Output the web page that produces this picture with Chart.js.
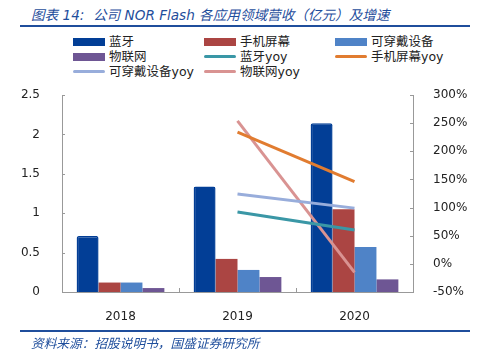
<!DOCTYPE html>
<html>
<head>
<meta charset="utf-8">
<script src="https://cdn.jsdelivr.net/npm/chart.js@4"></script>
<style>
  body { margin: 0; background: #fff; }
  #wrap { position: relative; width: 481px; height: 358px; overflow: hidden; }
  #chart { position: absolute; left: 0; top: 0; }
  .title { position: absolute; left: 31px; top: 4px; font: italic 13.6px "DejaVu Sans", "Noto Sans CJK SC", sans-serif; color: #1f4e9c; white-space: nowrap; }
  .rule { position: absolute; left: 20px; width: 450px; height: 2px; background: #1f4e9c; }
  .source { position: absolute; left: 31px; top: 333px; font: italic 12.7px "Noto Sans CJK SC", sans-serif; color: #1f4e9c; white-space: nowrap; }
  .leg { position: absolute; font: 12.5px "DejaVu Sans", "Noto Sans CJK SC", sans-serif; color: #222; white-space: nowrap; line-height: 15px; }
  .leg i { position: absolute; display: block; }
</style>
</head>
<body>
<div id="wrap">
  <div class="title">图表 14:&nbsp; 公司 NOR Flash 各应用领域营收（亿元）及增速</div>
  <div class="rule" style="top:25px"></div>
  <div id="legend"></div>
  <canvas id="chart" width="481" height="358"></canvas>
  <div class="rule" style="top:330px"></div>
  <div class="source">资料来源：招股说明书，国盛证券研究所</div>
</div>
<script>
const years = ["2018", "2019", "2020"];

const bluetooth = [0.71, 1.34, 2.14];
const screen = [0.12, 0.42, 1.05];
const wearable = [0.12, 0.28, 0.57];
const iot = [0.05, 0.19, 0.16];

const bluetoothYoy = [null, 92, 60];
const screenYoy = [null, 234, 146];
const wearableYoy = [null, 124, 99];
const iotYoy = [null, 254, -15];

const leftTicks = [0, 0.5, 1, 1.5, 2, 2.5];
const rightTicks = [-50, 0, 50, 100, 150, 200, 250, 300];

const colors = {
  bluetooth: "#023e96",
  screen: "#ab4543",
  wearable: "#4f83c7",
  iot: "#6e5694",
  bluetoothYoy: "#3a97a6",
  screenYoy: "#e17c30",
  wearableYoy: "#98addb",
  iotYoy: "#d99392",
};

// legend, 3 columns like the original
const legendItems = [
  ["蓝牙", colors.bluetooth, "bar"],
  ["手机屏幕", colors.screen, "bar"],
  ["可穿戴设备", colors.wearable, "bar"],
  ["物联网", colors.iot, "bar"],
  ["蓝牙yoy", colors.bluetoothYoy, "line"],
  ["手机屏幕yoy", colors.screenYoy, "line"],
  ["可穿戴设备yoy", colors.wearableYoy, "line"],
  ["物联网yoy", colors.iotYoy, "line"],
];
const colX = [73, 204, 335];
const rowY = [34, 49, 64];
const legend = document.getElementById("legend");
legendItems.forEach((item, i) => {
  const el = document.createElement("div");
  el.className = "leg";
  el.style.left = colX[i % 3] + "px";
  el.style.top = rowY[Math.floor(i / 3)] + "px";
  el.style.paddingLeft = "36px";
  const sw = document.createElement("i");
  sw.style.background = item[1];
  sw.style.left = "0px";
  sw.style.width = "32px";
  if (item[2] === "bar") {
    sw.style.top = "4px";
    sw.style.height = "8px";
  } else {
    sw.style.top = "6px";
    sw.style.height = "3px";
    sw.style.borderRadius = "2px";
  }
  el.appendChild(sw);
  el.appendChild(document.createTextNode(item[0]));
  legend.appendChild(el);
});

// small inward tick marks on the axes
const innerTicks = {
  id: "innerTicks",
  afterDraw(chart) {
    const c = chart.ctx;
    const a = chart.chartArea;
    c.save();
    c.strokeStyle = "#999";
    c.lineWidth = 1;
    c.beginPath();
    chart.scales.y.ticks.forEach((t) => {
      const y = Math.round(chart.scales.y.getPixelForValue(t.value)) + 0.5;
      c.moveTo(a.left, y);
      c.lineTo(a.left + 3, y);
    });
    chart.scales.y1.ticks.forEach((t) => {
      const y = Math.round(chart.scales.y1.getPixelForValue(t.value)) + 0.5;
      c.moveTo(a.right, y);
      c.lineTo(a.right - 3, y);
    });
    const step = (a.right - a.left) / years.length;
    for (let i = 1; i < years.length; i++) {
      const x = Math.round(a.left + step * i) + 0.5;
      c.moveTo(x, a.bottom);
      c.lineTo(x, a.bottom - 4);
    }
    c.stroke();
    c.restore();
  },
};

const barDs = (label, data, color, extra) =>
  Object.assign(
    {
      type: "bar",
      label,
      data,
      backgroundColor: color,
      yAxisID: "y",
      categoryPercentage: 0.75,
      barPercentage: 1,
      order: 2,
    },
    extra || {}
  );
const lineDs = (label, data, color) => ({
  type: "line",
  label,
  data,
  borderColor: color,
  backgroundColor: color,
  borderWidth: 3,
  pointRadius: 0,
  yAxisID: "y1",
  order: 1,
});

Chart.defaults.font.family = "'DejaVu Sans', sans-serif";
Chart.defaults.color = "#222";

new Chart(document.getElementById("chart"), {
  data: {
    labels: years,
    datasets: [
      barDs("蓝牙", bluetooth, colors.bluetooth, { borderColor: colors.bluetooth, borderWidth: 1.5, borderRadius: 2 }),
      barDs("手机屏幕", screen, colors.screen),
      barDs("可穿戴设备", wearable, colors.wearable),
      barDs("物联网", iot, colors.iot),
      lineDs("蓝牙yoy", bluetoothYoy, colors.bluetoothYoy),
      lineDs("手机屏幕yoy", screenYoy, colors.screenYoy),
      lineDs("可穿戴设备yoy", wearableYoy, colors.wearableYoy),
      lineDs("物联网yoy", iotYoy, colors.iotYoy),
    ],
  },
  options: {
    responsive: false,
    animation: false,
    layout: { padding: { top: 95, bottom: 36, left: 0, right: 0 } },
    plugins: {
      legend: { display: false },
      tooltip: { enabled: false },
    },
    scales: {
      x: {
        grid: { display: false },
        border: { color: "#999" },
        ticks: { font: { size: 12 }, padding: 10 },
        afterFit: (s) => { s.height = 30; },
      },
      y: {
        position: "left",
        min: 0,
        max: 2.5,
        afterBuildTicks: (s) => { s.ticks = leftTicks.map((v) => ({ value: v })); },
        grid: { display: false },
        border: { color: "#999" },
        ticks: { font: { size: 12 }, padding: 14, callback: (v) => String(v) },
        afterFit: (s) => { s.width = 62; },
      },
      y1: {
        position: "right",
        min: -50,
        max: 300,
        afterBuildTicks: (s) => { s.ticks = rightTicks.map((v) => ({ value: v })); },
        grid: { display: false },
        border: { color: "#999" },
        ticks: { font: { size: 12 }, padding: 12, callback: (v) => v + "%" },
        afterFit: (s) => { s.width = 68; },
      },
    },
  },
  plugins: [innerTicks],
});
</script>
</body>
</html>
